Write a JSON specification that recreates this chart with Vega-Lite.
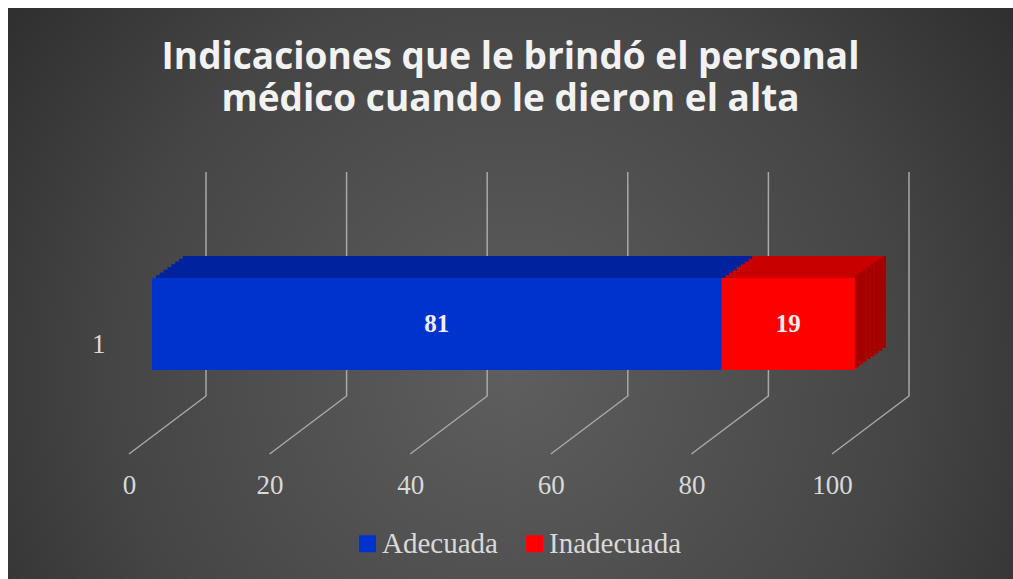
{
  "$schema": "https://vega.github.io/schema/vega-lite/v6.json",
  "width": 1005,
  "height": 571,
  "autosize": {"type": "none"},
  "padding": {"left": 8, "top": 8, "right": 0, "bottom": 0},
  "background": "white",
  "config": {
    "view": {
      "stroke": null,
      "fill": {
        "gradient": "radial",
        "x1": 0.5, "y1": 0.58, "r1": 0,
        "x2": 0.5, "y2": 0.58, "r2": 0.72,
        "stops": [
          {"offset": 0, "color": "#5e5e5e"},
          {"offset": 0.55, "color": "#454545"},
          {"offset": 1, "color": "#252525"}
        ]
      }
    },
    "axis": {"grid": false, "domain": false, "ticks": false, "title": null},
    "axisX": {
      "offset": -107, "labelPadding": 0, "labelOffset": -23, "labelFont": "Liberation Serif",
      "labelFontSize": 27, "labelColor": "#d9d9d9", "labelFlush": false, "labelOverlap": false
    },
    "axisY": {
      "offset": -97, "labelPadding": 0, "labelOffset": 21, "labelAngle": 0, "labelAlign": "right",
      "labelFont": "Liberation Serif", "labelFontSize": 27, "labelColor": "#d9d9d9"
    }
  },
  "title": {
    "text": ["Indicaciones que le brindó el personal", "médico cuando le dieron el alta"],
    "font": "Open Sans",
    "fontSize": 37,
    "fontWeight": "bold",
    "color": "#f2f2f2",
    "lineHeight": 42,
    "anchor": "middle",
    "frame": "group",
    "baseline": "bottom",
    "offset": -148
  },
  "datasets": {
    "ticks": [{"t": 0}, {"t": 20}, {"t": 40}, {"t": 60}, {"t": 80}, {"t": 100}],
    "bars": [
      {"cat": "1", "label": "Adecuada", "value": 81},
      {"cat": "1", "label": "Inadecuada", "value": 19}
    ]
  },
  "layer": [
    {
      "data": {"name": "ticks"},
      "mark": {"type": "point", "shape": "M0.27305,-1L0.27305,0.58865L-0.27305,1", "size": 79524, "filled": false, "stroke": "#a8a8a8", "strokeWidth": 1.5, "opacity": 1, "xOffset": 15.5, "yOffset": 19.5},
      "encoding": {
        "x": {
          "field": "t", "type": "quantitative", "title": null,
          "scale": {"domain": [0, 100], "range": [144, 847], "nice": false, "zero": false},
          "axis": {"orient": "bottom", "values": [0, 20, 40, 60, 80, 100]}
        }
      }
    },
    {
      "data": {"name": "bars"},
      "transform": [
        {"stack": "value", "groupby": ["cat"], "sort": [{"field": "label", "order": "ascending"}], "as": ["v0", "v1"]}
      ],
      "layer": [
        {"mark": {"type": "bar", "xOffset": 31, "x2Offset": 31, "yOffset": -22, "y2Offset": -22},
         "encoding": {"x": {"field": "v0", "type": "quantitative", "title": null}, "x2": {"field": "v1"}, "y": {"field": "cat", "type": "nominal", "title": null},
           "fill": {"condition": {"test": "datum.label === 'Adecuada'", "value": "#00229c"}, "value": "#c80000"}}},
        {"transform": [{"filter": "datum.label === 'Inadecuada'"}],
         "mark": {"type": "bar", "xOffset": 27.125, "x2Offset": 31, "yOffset": -22, "y2Offset": -22, "fill": "#a30000"},
         "encoding": {"x": {"field": "v1", "type": "quantitative", "title": null}, "x2": {"field": "v1"}, "y": {"field": "cat", "type": "nominal", "title": null}}},
        {"mark": {"type": "bar", "xOffset": 27.125, "x2Offset": 27.125, "yOffset": -19.25, "y2Offset": -19.25},
         "encoding": {"x": {"field": "v0", "type": "quantitative", "title": null}, "x2": {"field": "v1"}, "y": {"field": "cat", "type": "nominal", "title": null},
           "fill": {"condition": {"test": "datum.label === 'Adecuada'", "value": "#00229c"}, "value": "#c80000"}}},
        {"transform": [{"filter": "datum.label === 'Inadecuada'"}],
         "mark": {"type": "bar", "xOffset": 23.25, "x2Offset": 27.125, "yOffset": -19.25, "y2Offset": -19.25, "fill": "#a30000"},
         "encoding": {"x": {"field": "v1", "type": "quantitative", "title": null}, "x2": {"field": "v1"}, "y": {"field": "cat", "type": "nominal", "title": null}}},
        {"mark": {"type": "bar", "xOffset": 23.25, "x2Offset": 23.25, "yOffset": -16.5, "y2Offset": -16.5},
         "encoding": {"x": {"field": "v0", "type": "quantitative", "title": null}, "x2": {"field": "v1"}, "y": {"field": "cat", "type": "nominal", "title": null},
           "fill": {"condition": {"test": "datum.label === 'Adecuada'", "value": "#00229c"}, "value": "#c80000"}}},
        {"transform": [{"filter": "datum.label === 'Inadecuada'"}],
         "mark": {"type": "bar", "xOffset": 19.375, "x2Offset": 23.25, "yOffset": -16.5, "y2Offset": -16.5, "fill": "#a30000"},
         "encoding": {"x": {"field": "v1", "type": "quantitative", "title": null}, "x2": {"field": "v1"}, "y": {"field": "cat", "type": "nominal", "title": null}}},
        {"mark": {"type": "bar", "xOffset": 19.375, "x2Offset": 19.375, "yOffset": -13.75, "y2Offset": -13.75},
         "encoding": {"x": {"field": "v0", "type": "quantitative", "title": null}, "x2": {"field": "v1"}, "y": {"field": "cat", "type": "nominal", "title": null},
           "fill": {"condition": {"test": "datum.label === 'Adecuada'", "value": "#00229c"}, "value": "#c80000"}}},
        {"transform": [{"filter": "datum.label === 'Inadecuada'"}],
         "mark": {"type": "bar", "xOffset": 15.5, "x2Offset": 19.375, "yOffset": -13.75, "y2Offset": -13.75, "fill": "#a30000"},
         "encoding": {"x": {"field": "v1", "type": "quantitative", "title": null}, "x2": {"field": "v1"}, "y": {"field": "cat", "type": "nominal", "title": null}}},
        {"mark": {"type": "bar", "xOffset": 15.5, "x2Offset": 15.5, "yOffset": -11, "y2Offset": -11},
         "encoding": {"x": {"field": "v0", "type": "quantitative", "title": null}, "x2": {"field": "v1"}, "y": {"field": "cat", "type": "nominal", "title": null},
           "fill": {"condition": {"test": "datum.label === 'Adecuada'", "value": "#00229c"}, "value": "#c80000"}}},
        {"transform": [{"filter": "datum.label === 'Inadecuada'"}],
         "mark": {"type": "bar", "xOffset": 11.625, "x2Offset": 15.5, "yOffset": -11, "y2Offset": -11, "fill": "#a30000"},
         "encoding": {"x": {"field": "v1", "type": "quantitative", "title": null}, "x2": {"field": "v1"}, "y": {"field": "cat", "type": "nominal", "title": null}}},
        {"mark": {"type": "bar", "xOffset": 11.625, "x2Offset": 11.625, "yOffset": -8.25, "y2Offset": -8.25},
         "encoding": {"x": {"field": "v0", "type": "quantitative", "title": null}, "x2": {"field": "v1"}, "y": {"field": "cat", "type": "nominal", "title": null},
           "fill": {"condition": {"test": "datum.label === 'Adecuada'", "value": "#00229c"}, "value": "#c80000"}}},
        {"transform": [{"filter": "datum.label === 'Inadecuada'"}],
         "mark": {"type": "bar", "xOffset": 7.75, "x2Offset": 11.625, "yOffset": -8.25, "y2Offset": -8.25, "fill": "#a30000"},
         "encoding": {"x": {"field": "v1", "type": "quantitative", "title": null}, "x2": {"field": "v1"}, "y": {"field": "cat", "type": "nominal", "title": null}}},
        {"mark": {"type": "bar", "xOffset": 7.75, "x2Offset": 7.75, "yOffset": -5.5, "y2Offset": -5.5},
         "encoding": {"x": {"field": "v0", "type": "quantitative", "title": null}, "x2": {"field": "v1"}, "y": {"field": "cat", "type": "nominal", "title": null},
           "fill": {"condition": {"test": "datum.label === 'Adecuada'", "value": "#00229c"}, "value": "#c80000"}}},
        {"transform": [{"filter": "datum.label === 'Inadecuada'"}],
         "mark": {"type": "bar", "xOffset": 3.875, "x2Offset": 7.75, "yOffset": -5.5, "y2Offset": -5.5, "fill": "#a30000"},
         "encoding": {"x": {"field": "v1", "type": "quantitative", "title": null}, "x2": {"field": "v1"}, "y": {"field": "cat", "type": "nominal", "title": null}}},
        {"mark": {"type": "bar", "xOffset": 3.875, "x2Offset": 3.875, "yOffset": -2.75, "y2Offset": -2.75},
         "encoding": {"x": {"field": "v0", "type": "quantitative", "title": null}, "x2": {"field": "v1"}, "y": {"field": "cat", "type": "nominal", "title": null},
           "fill": {"condition": {"test": "datum.label === 'Adecuada'", "value": "#00229c"}, "value": "#c80000"}}},
        {"transform": [{"filter": "datum.label === 'Inadecuada'"}],
         "mark": {"type": "bar", "xOffset": 0, "x2Offset": 3.875, "yOffset": -2.75, "y2Offset": -2.75, "fill": "#a30000"},
         "encoding": {"x": {"field": "v1", "type": "quantitative", "title": null}, "x2": {"field": "v1"}, "y": {"field": "cat", "type": "nominal", "title": null}}},
        {
          "mark": {"type": "bar"},
          "encoding": {
            "x": {"field": "v0", "type": "quantitative", "title": null},
            "x2": {"field": "v1"},
            "y": {
              "field": "cat", "type": "nominal", "title": null,
              "scale": {"domain": ["1"], "range": [270, 362], "paddingInner": 0, "paddingOuter": 0},
              "axis": {"orient": "left"}
            },
            "color": {
              "field": "label", "type": "nominal",
              "scale": {"domain": ["Adecuada", "Inadecuada"], "range": ["#0033cc", "#ff0000"]},
              "legend": {
                "orient": "none", "legendX": 345, "legendY": 521, "direction": "horizontal", "title": null,
                "symbolType": "square", "symbolSize": 289, "symbolStrokeWidth": 0, "symbolOpacity": 1,
                "labelFont": "Liberation Serif", "labelFontSize": 29, "labelColor": "#d9d9d9",
                "labelOffset": 0, "columnPadding": 22
              }
            }
          }
        },
        {
          "mark": {"type": "text", "font": "Liberation Serif", "fontWeight": "bold", "fontSize": 25, "color": "#eeeeee", "baseline": "middle", "align": "center"},
          "encoding": {
            "x": {"field": "value", "type": "quantitative", "stack": "zero", "bandPosition": 0.5, "title": null},
            "y": {"field": "cat", "type": "nominal", "title": null},
            "detail": {"field": "label", "type": "nominal"},
            "order": {"field": "label", "type": "nominal", "sort": "ascending"},
            "text": {"field": "value", "type": "quantitative"}
          }
        }
      ]
    }
  ]
}
